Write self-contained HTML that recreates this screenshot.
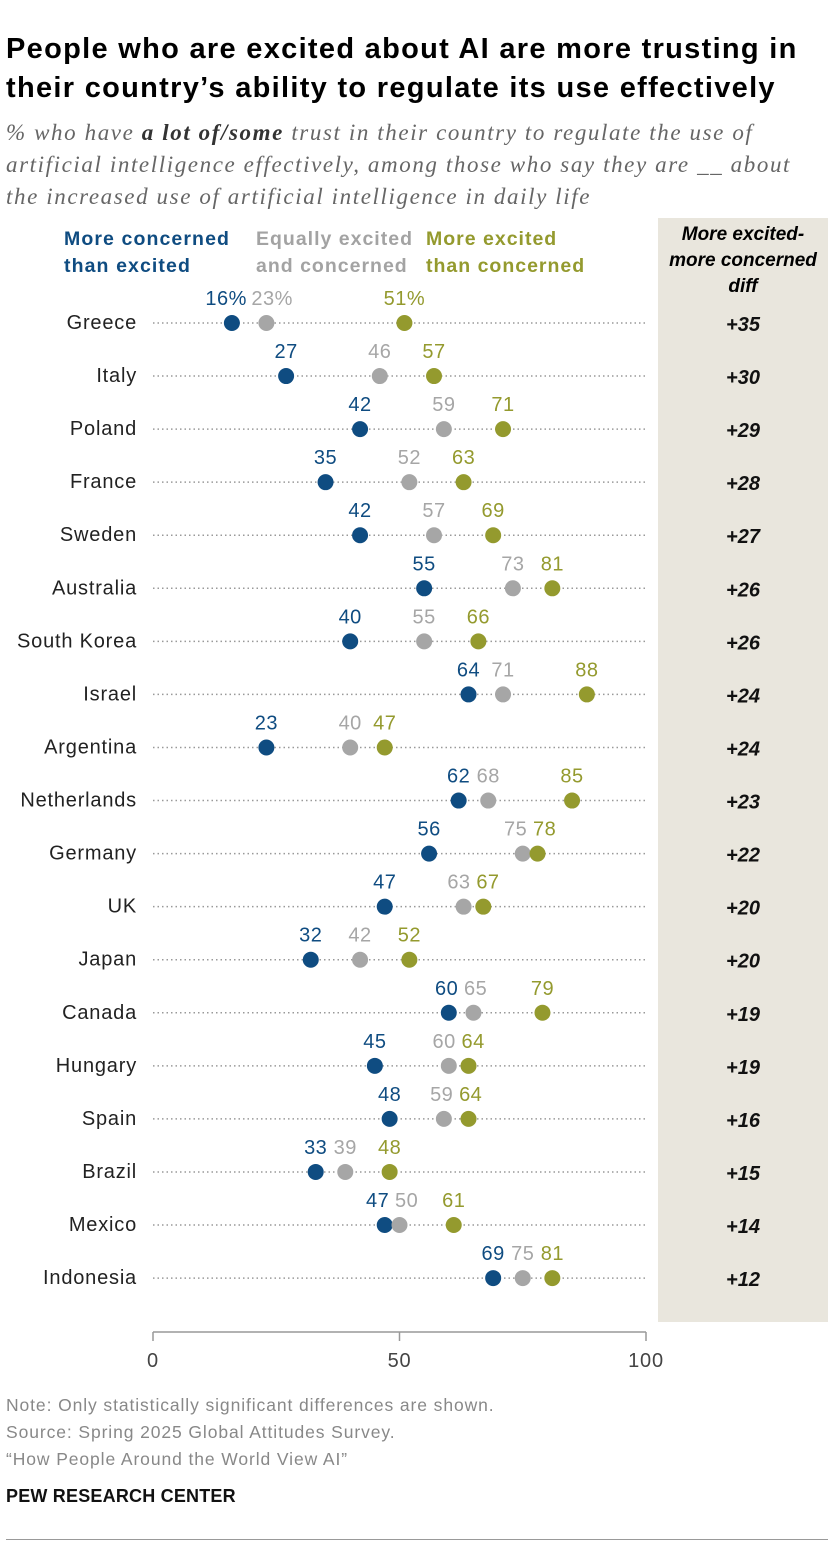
<!DOCTYPE html>
<html><head><meta charset="utf-8"><style>
body{margin:0;width:840px;height:1544px;background:#fff;font-family:"Liberation Sans",sans-serif;position:relative;overflow:hidden}
.t{position:absolute;white-space:nowrap}
</style></head><body>
<div class="t" style="left:6px;top:30px;font-size:29px;font-weight:bold;line-height:39px;letter-spacing:1.3px;color:#000">People who are excited about AI are more trusting in<br>their country’s ability to regulate its use effectively</div>
<div class="t" style="left:6px;top:117px;font-family:'Liberation Serif',serif;font-style:italic;font-size:23px;line-height:32px;letter-spacing:1.6px;color:#666">% who have <b style="color:#333">a lot of/some</b> trust in their country to regulate the use of<br>artificial intelligence effectively, among those who say they are __ about<br>the increased use of artificial intelligence in daily life</div>
<div style="position:absolute;left:658px;top:218px;width:170px;height:1104px;background:#e9e6dd"></div>
<div class="t" style="left:658px;top:222px;width:170px;text-align:center;font-size:19px;font-weight:bold;font-style:italic;line-height:26px">More excited-<br>more concerned<br>diff</div>
<div class="t" style="left:64px;top:226px;font-size:19.5px;font-weight:bold;line-height:27px;letter-spacing:1.1px;color:#0f4c81">More concerned<br>than excited</div>
<div class="t" style="left:256px;top:226px;font-size:19.5px;font-weight:bold;line-height:27px;letter-spacing:1px;color:#a3a3a3">Equally excited<br>and concerned</div>
<div class="t" style="left:426px;top:226px;font-size:19.5px;font-weight:bold;line-height:27px;letter-spacing:1px;color:#949a2e">More excited<br>than concerned</div>
<svg id="chart" width="840" height="1544" style="position:absolute;left:0;top:0"></svg>
<div class="t" style="left:6px;top:1392px;font-size:17.5px;line-height:27px;letter-spacing:0.9px;color:#888">Note: Only statistically significant differences are shown.<br>Source: Spring 2025 Global Attitudes Survey.<br>“How People Around the World View AI”</div>
<div class="t" style="left:6px;top:1486px;font-size:18px;font-weight:bold;letter-spacing:0.2px;color:#111">PEW RESEARCH CENTER</div>
<div style="position:absolute;left:6px;top:1539px;width:822px;height:1px;background:#999"></div>
<script>
const countries=["Greece","Italy","Poland","France","Sweden","Australia","South Korea","Israel","Argentina","Netherlands","Germany","UK","Japan","Canada","Hungary","Spain","Brazil","Mexico","Indonesia"];
const concerned=[16,27,42,35,42,55,40,64,23,62,56,47,32,60,45,48,33,47,69];
const equal=[23,46,59,52,57,73,55,71,40,68,75,63,42,65,60,59,39,50,75];
const excited=[51,57,71,63,69,81,66,88,47,85,78,67,52,79,64,64,48,61,81];
const diffs=["+35","+30","+29","+28","+27","+26","+26","+24","+24","+23","+22","+20","+20","+19","+19","+16","+15","+14","+12"];
const ticks=[0,50,100];
const svg=document.getElementById('chart');const NS="http://www.w3.org/2000/svg";
const x=v=>153+v*4.93;const y=i=>323+i*53.06;
function mk(t,a,txt){const e=document.createElementNS(NS,t);for(const k in a)e.setAttribute(k,a[k]);if(txt!==undefined)e.textContent=txt;svg.appendChild(e);return e;}
const series=[[concerned,"#0f4c81","concerned"],[equal,"#a6a6a6","equal"],[excited,"#949a2e","excited"]];
countries.forEach((c,i)=>{
 let e=mk('line',{x1:153,x2:646,y1:y(i),y2:y(i),stroke:'#999','stroke-width':1.5,'stroke-dasharray':'1.5 3'});
 
 
 e=mk('text',{x:137,y:y(i)+6,'text-anchor':'end','font-size':20,'letter-spacing':0.8,fill:'#222'},c);
 
 
 e=mk('text',{x:743,y:y(i)+8,'text-anchor':'middle','font-size':20,'font-weight':'bold','font-style':'italic',fill:'#111'},diffs[i]);
 
 
 const lx=series.map(s=>x(s[0][i]));
 const w=i===0?46:29;
 for(let k=1;k<3;k++){ if(lx[k]-lx[k-1]<w){const d=(w-(lx[k]-lx[k-1]))/2; lx[k-1]-=d; lx[k]+=d;} }
 if(lx[1]-lx[0]<w){lx[0]=lx[1]-w;}
 for(let k=1;k<3;k++){ if(lx[k]-lx[k-1]<w){ lx[k]=lx[k-1]+w; } }
 series.forEach(([arr,col,nm],k)=>{
  e=mk('circle',{cx:x(arr[i]),cy:y(i),r:8,fill:col});
  
  
  e=mk('text',{x:lx[k],y:y(i)-18,'text-anchor':'middle','font-size':20,'letter-spacing':0.5,fill:col},arr[i]+(i===0?'%':''));
  
  
 });
});
let a=mk('line',{x1:153,x2:646,y1:1332,y2:1332,stroke:'#999','stroke-width':1.5});


ticks.forEach(t=>{
 let e=mk('line',{x1:x(t),x2:x(t),y1:1332,y2:1341,stroke:'#999','stroke-width':1.5});
 
 
 e=mk('text',{x:x(t),y:1367,'text-anchor':'middle','font-size':20,'letter-spacing':0.8,fill:'#444'},t);
 
 
});
</script>
</body></html>
